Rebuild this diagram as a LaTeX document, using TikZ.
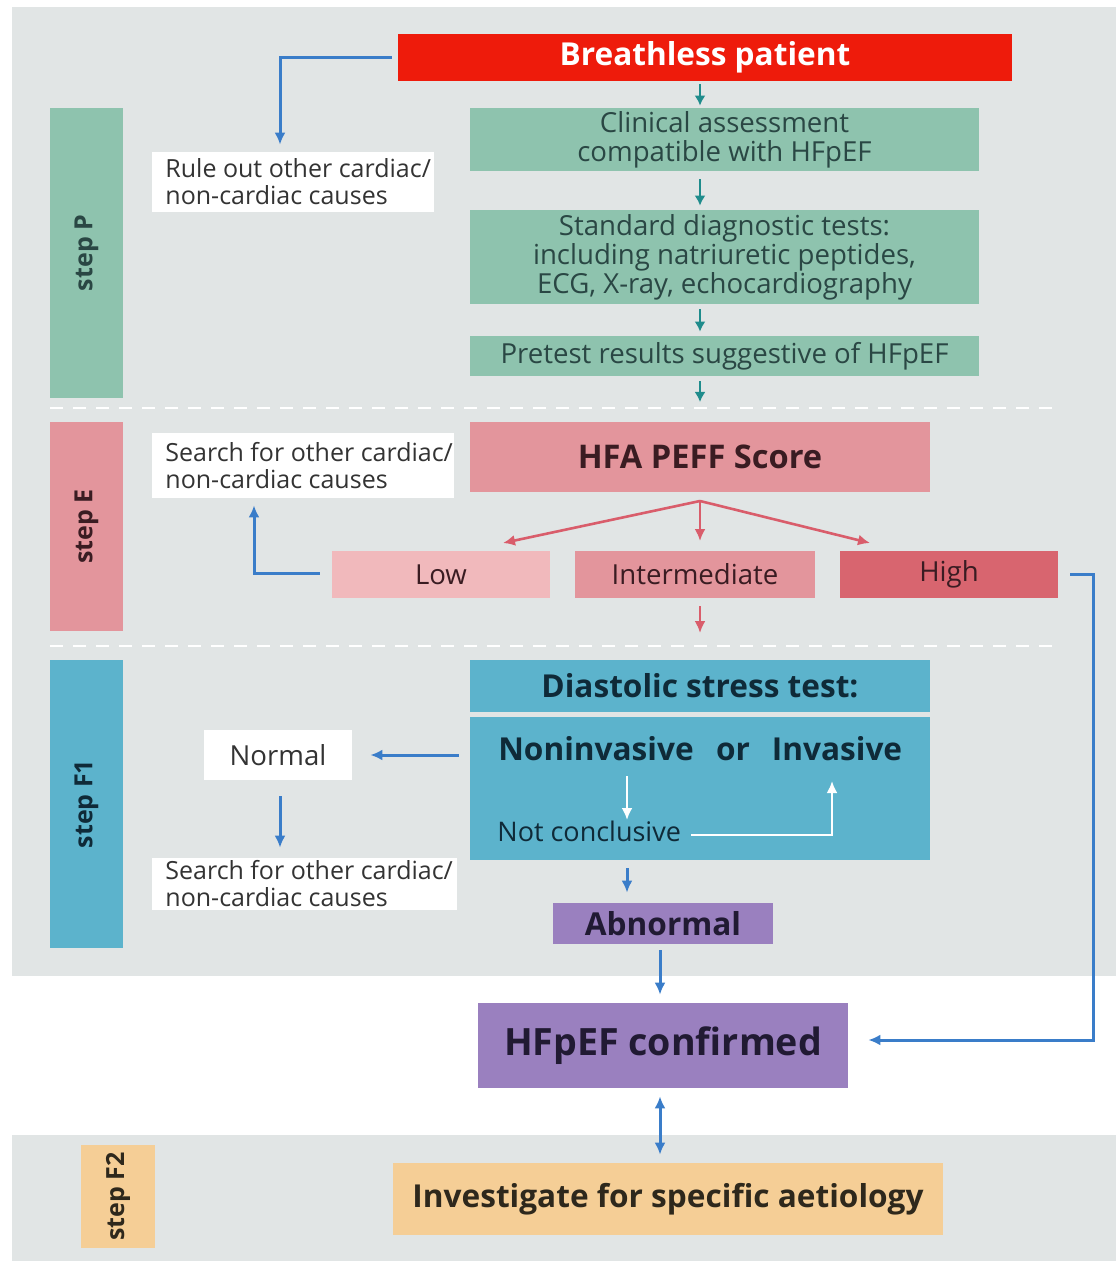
\documentclass[tikz,border=0pt]{standalone}
\usepackage{fontspec}
\setmainfont{Open Sans}
\usetikzlibrary{arrows.meta}
\definecolor{bggray}{HTML}{E1E5E5}
\definecolor{redbox}{HTML}{EE1B0B}
\definecolor{greenbox}{HTML}{8EC3AE}
\definecolor{greentext}{HTML}{2A4744}
\definecolor{pinkmed}{HTML}{E3959C}
\definecolor{pinklight}{HTML}{F1B9BC}
\definecolor{pinkdark}{HTML}{D8656F}
\definecolor{pinktext}{HTML}{3A1C22}
\definecolor{bluebox}{HTML}{5CB3CC}
\definecolor{bluetext}{HTML}{0F2A38}
\definecolor{purplebox}{HTML}{9A80BF}
\definecolor{purpletext}{HTML}{211A33}
\definecolor{peachbox}{HTML}{F5CE96}
\definecolor{peachtext}{HTML}{2E281C}
\definecolor{connblue}{HTML}{3A7DC9}
\definecolor{tealarrow}{HTML}{1F8C8C}
\definecolor{redarrow}{HTML}{D95D6B}
\definecolor{graytext}{HTML}{333333}
\begin{document}
\begin{tikzpicture}[x=0.5pt,y=-0.5pt,
  box/.style={inner sep=0pt, align=center},
  stepbar/.style={box, rotate=90, font=\bfseries\fontsize{12.5}{15}\selectfont},
  whitebox/.style={box, fill=white, text=graytext, font=\fontsize{12.5}{13.5}\selectfont},
  noteblock/.style={inner sep=0pt, align=left, text=graytext, font=\fontsize{12.5}{13.5}\selectfont, anchor=west},
  greenstep/.style={box, fill=greenbox, text=greentext, font=\fontsize{13.8}{14.5}\selectfont},
  pinkstep/.style={box, text=pinktext, font=\fontsize{13.8}{16}\selectfont},
  boldtext/.style={font=\bfseries\fontsize{15.8}{18}\selectfont},
  bluearrow/.style={draw=connblue, line width=1.5pt, -{Latex[length=6pt,width=5.5pt]}},
  tealarr/.style={draw=tealarrow, line width=1.4pt, -{Latex[length=5pt,width=5.5pt]}},
  redarr/.style={draw=redarrow, line width=1.3pt, -{Latex[length=6pt,width=5.5pt]}},
  whitearr/.style={draw=white, line width=1.4pt, -{Latex[length=6pt,width=5.5pt]}},
  divider/.style={draw=white, line width=1.2pt, dash pattern=on 6.5pt off 5pt}
]
\useasboundingbox (0,0) rectangle (1116,1261);
\fill[white] (0,0) rectangle (1116,1261);
% grey panels
\fill[bggray] (12,7) rectangle (1116,976);
\fill[bggray] (12,1135) rectangle (1116,1261);
% dividers
\draw[divider] (50,408) -- (1058,408);
\draw[divider] (50,646) -- (1058,646);

% step P
\node[stepbar, fill=greenbox, text=greentext, minimum width=145pt, minimum height=36.5pt] (stepP) at (86.5,253) {step P};
\node[box, boldtext, fill=redbox, text=white, minimum width=307pt, minimum height=23.5pt] (breath) at (705,57.5) {Breathless patient};
\node[box, fill=white, minimum width=141pt, minimum height=30pt] (ruleout) at (293,182) {};
\node[noteblock] (ruletext) at (165,182) {Rule out other cardiac/\\non-cardiac causes};
\node[greenstep, minimum width=254.5pt, minimum height=31.5pt] (clin) at (724.5,139.5) {Clinical assessment\\compatible with HFpEF};
\node[greenstep, minimum width=254.5pt, minimum height=47pt] (std) at (724.5,257) {Standard diagnostic tests:\\including natriuretic peptides,\\ECG, X-ray, echocardiography};
\node[greenstep, minimum width=254.5pt, minimum height=20pt] (pre) at (724.5,356) {Pretest results suggestive of HFpEF};
\coordinate (preout) at (700,402);

\draw[bluearrow] ([xshift=-3pt]breath.west) -| ([yshift=3.5pt]ruleout.north -| 280,0);
\draw[tealarr] (breath.south -| 700,0) ++(0,3) -- ([yshift=1pt]clin.north -| 700,0);
\draw[tealarr] (clin.south -| 700,0) ++(0,8) -- ([yshift=2pt]std.north -| 700,0);
\draw[tealarr] (std.south -| 700,0) ++(0,5) -- ([yshift=2pt]pre.north -| 700,0);
\draw[tealarr] (pre.south -| 700,0) ++(0,5) -- (preout);

% step E
\node[stepbar, fill=pinkmed, text=pinktext, minimum width=104.5pt, minimum height=36.5pt] (stepE) at (86.5,526.5) {step E};
\node[box, fill=white, minimum width=151pt, minimum height=32.5pt] (search1) at (303,465.5) {};
\node[noteblock] (search1text) at (165,465.5) {Search for other cardiac/\\non-cardiac causes};
\node[box, boldtext, fill=pinkmed, text=pinktext, minimum width=230pt, minimum height=35pt, font=\bfseries\fontsize{16.3}{18}\selectfont] (hfa) at (700,457) {HFA PEFF Score};
\node[pinkstep, fill=pinklight, minimum width=109pt, minimum height=23.5pt] (low) at (441,574.5) {Low};
\node[pinkstep, fill=pinkmed, minimum width=120pt, minimum height=23.5pt] (inter) at (695,574.5) {Intermediate};
\node[pinkstep, fill=pinkdark, minimum width=109pt, minimum height=23.5pt] (high) at (949,574.5) {High};
\coordinate (fork) at (700,501);
\coordinate (lowtip) at (503,543);
\coordinate (hightip) at (870,543);
\coordinate (intertip) at (700,541);
\coordinate (interout) at (700,633);
\draw[redarr] (fork) -- (lowtip);
\draw[redarr] (fork) -- (intertip);
\draw[redarr] (fork) -- (hightip);
\draw[redarr] (inter.south -| 700,0) ++(0,8) -- (interout);
\draw[bluearrow] (low.west) ++(-12,-1) -| ([yshift=-3.5pt]search1.south -| 254,0);

% step F1
\node[stepbar, fill=bluebox, text=bluetext, minimum width=144pt, minimum height=36.5pt] (stepF1) at (86.5,804) {step F1};
\node[box, boldtext, fill=bluebox, text=bluetext, minimum width=230pt, minimum height=26pt] (dst) at (700,686) {Diastolic stress test:};
\node[box, fill=bluebox, minimum width=230pt, minimum height=71.5pt] (dlow) at (700,788.5) {};
\node[box, boldtext, text=bluetext, anchor=base] (nonin) at (596,760) {Noninvasive};
\node[box, boldtext, text=bluetext, anchor=base] (or) at (733,760) {or};
\node[box, boldtext, text=bluetext, anchor=base] (inv) at (837,760) {Invasive};
\node[box, text=bluetext, font=\fontsize{13.5}{15}\selectfont, anchor=base west] (notc) at (497,841) {Not conclusive};
\coordinate (noninout) at (627,776);
\coordinate (notcin) at (627,820);
\coordinate (invin) at (832,781);
\draw[whitearr] (noninout) -- (notcin);
\draw[whitearr] ([xshift=5pt]notc.east |- 0,835) -| (invin);

\node[whitebox, minimum width=74pt, minimum height=25pt, font=\fontsize{13.8}{16}\selectfont] (normal) at (278,755) {Normal};
\node[box, fill=white, minimum width=152.5pt, minimum height=26pt] (search2) at (304.5,884) {};
\node[noteblock] (search2text) at (165,884) {Search for other cardiac/\\non-cardiac causes};
\node[box, boldtext, fill=purplebox, text=purpletext, minimum width=110pt, minimum height=20.5pt] (abn) at (663,923.5) {Abnormal};
\draw[bluearrow] (dlow.west |- normal) ++(-11,0) -- ([xshift=9pt]normal.east);
\draw[bluearrow] ([yshift=-8pt]normal.south -| 280,0) -- ([yshift=5pt]search2.north -| 280,0);
\draw[bluearrow] ([yshift=-4pt]dlow.south -| 627,0) -- ([yshift=5pt]abn.north -| 627,0);

% confirmation
\node[box, fill=purplebox, text=purpletext, font=\bfseries\fontsize{18.8}{21}\selectfont, minimum width=185pt, minimum height=42.5pt] (conf) at (663,1045.5) {HFpEF confirmed};
\draw[bluearrow] ([yshift=-3pt]abn.south -| 660,0) -- ([yshift=4pt]conf.north -| 660,0);
\draw[bluearrow] ([xshift=6pt]high.east) -| (1093,1040) -- ([xshift=10pt]conf.east |- 0,1040);

% step F2
\node[stepbar, fill=peachbox, text=peachtext, minimum width=51.5pt, minimum height=37pt] (stepF2) at (118,1196.5) {step F2};
\node[box, boldtext, fill=peachbox, text=peachtext, minimum width=275pt, minimum height=36pt] (aet) at (668,1199) {Investigate for specific aetiology};
\draw[draw=connblue, line width=1.5pt, {Latex[length=6pt,width=5.5pt]}-{Latex[length=6pt,width=5.5pt]}] ([yshift=-4pt]conf.south -| 660,0) -- ([yshift=4pt]aet.north -| 660,0);
\end{tikzpicture}
\end{document}
